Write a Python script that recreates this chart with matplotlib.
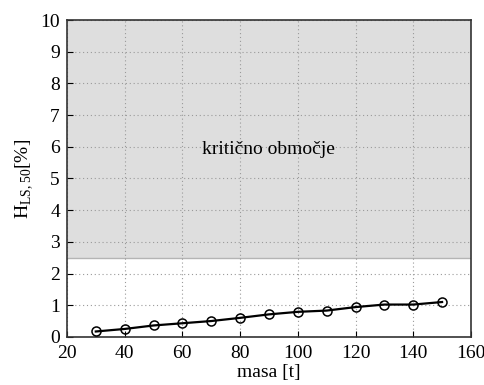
import numpy as np
import matplotlib
matplotlib.use("Agg")
import matplotlib.pyplot as plt

plt.rcParams['font.family'] = ['Liberation Serif', 'DejaVu Serif']
plt.rcParams['mathtext.fontset'] = 'custom'
plt.rcParams['mathtext.rm'] = 'Liberation Serif'

# masa [t] vs. H_LS,50 [%]
masa = [30, 40, 50, 60, 70, 80, 90, 100, 110, 120, 130, 140, 150]
h_ls50 = [0.17, 0.25, 0.36, 0.43, 0.50, 0.60, 0.71, 0.79, 0.83, 0.94, 1.02, 1.02, 1.10]
meja = 2.5  # spodnja meja kriticnega obmocja

fig = plt.figure(figsize=(4.85, 3.85), dpi=100)
ax = fig.add_axes([0.138, 0.125, 0.833, 0.823])

ax.axhspan(meja, 10, color='#dedede', zorder=0, lw=0)
ax.axhline(meja, color='#b4b4b4', lw=1.0, zorder=1)

ax.plot(masa, h_ls50, color='black', lw=1.6, marker='o', ms=6.5,
        mfc='none', mec='black', mew=1.1, zorder=3)

ax.text(90, 5.9, 'kritično območje', ha='center', va='center', fontsize=14)

ax.set_xlim(20, 160)
ax.set_ylim(0, 10)
ax.set_xticks(np.arange(20, 161, 20))
ax.set_yticks(np.arange(0, 11, 1))
ax.grid(True, linestyle=(0, (1, 2.5)), color='#9a9a9a', lw=0.8)
ax.tick_params(direction='in', labelsize=14, length=4)
ax.tick_params(axis='x', pad=6)
ax.tick_params(axis='y', pad=5)
for s in ax.spines.values():
    s.set_linewidth(1.2)
    s.set_color('#333333')

ax.set_xlabel('masa [t]', fontsize=14, labelpad=1)
ax.set_ylabel(r'H$_{\mathrm{LS,50}}$[%]', fontsize=14, labelpad=4)

fig.savefig('out.png', dpi=100)
